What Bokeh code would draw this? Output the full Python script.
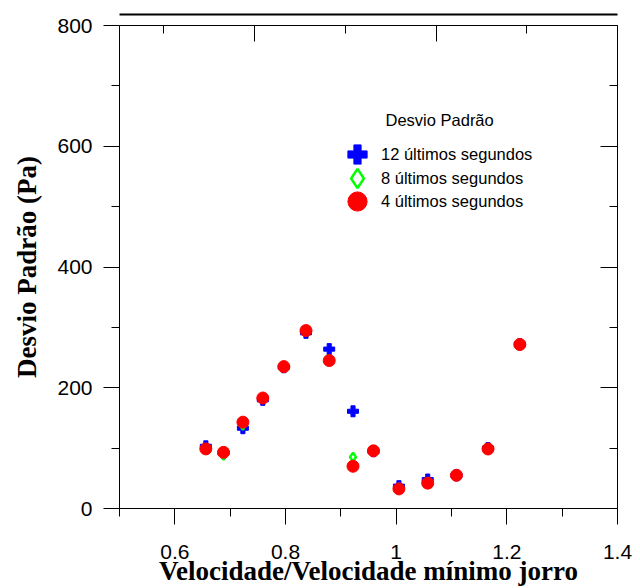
from bokeh.plotting import figure
from bokeh.models import Range1d, FixedTicker, LinearAxis, Legend, LegendItem, Label
from bokeh.embed import file_html
from bokeh.resources import INLINE

# ---- data ----
vel = [0.656, 0.688, 0.723, 0.759, 0.797, 0.837, 0.879, 0.922, 0.959, 1.005, 1.057, 1.109, 1.166, 1.2235]
dp12 = [103, 92, 133, 180, 234, 291, 264, 161, 95, 37, 48, 55, 100, 272]
dp8 = [99, 88, 138, 182, 235, 294, 246, 85, 95, 34, 43, 55, 99, 272]
dp4 = [98.7, 93, 143, 183, 235, 294.7, 245, 70, 95.5, 32.5, 42, 55, 98.6, 271.6]

x_major = [0.6, 0.8, 1.0, 1.2, 1.4]
x_minor = [0.5, 0.7, 0.9, 1.1, 1.3]
x_labels = ["0.6", "0.8", "1", "1.2", "1.4"]
y_major = [0, 200, 400, 600, 800]
y_minor = [100, 300, 500, 700]

series_names = ["12 últimos segundos", "8 últimos segundos", "4 últimos segundos"]
legend_title = "Desvio Padrão"
x_title = "Velocidade/Velocidade mínimo jorro"
y_title = "Desvio Padrão (Pa)"

SANS = "Liberation Sans"
SERIF = "Liberation Serif"

p = figure(width=640, height=588, x_range=Range1d(0.5, 1.4), y_range=Range1d(0, 800),
           output_backend="svg", toolbar_location=None,
           min_border_left=119, min_border_right=23, min_border_top=25, min_border_bottom=79,
           x_axis_label=x_title, y_axis_label=y_title)
p.grid.visible = False
p.outline_line_color = None
p.background_fill_color = "white"
p.border_fill_color = "white"

# bottom axis
xa = p.xaxis[0]
xa.ticker = FixedTicker(ticks=x_major, minor_ticks=x_minor)
xa.major_label_overrides = {v: s for v, s in zip(x_major, x_labels)}
xa.major_tick_in = 0
xa.major_tick_out = 16
xa.minor_tick_in = 0
xa.minor_tick_out = 8
xa.major_label_standoff = 20
xa.major_label_text_font = SANS
xa.major_label_text_font_size = "21px"
xa.major_label_text_color = "black"
xa.axis_label_text_font = SERIF
xa.axis_label_text_font_style = "bold"
xa.axis_label_text_font_size = "27px"
xa.axis_label_text_color = "black"
xa.axis_label_standoff = -6
xa.axis_line_color = "black"
xa.major_tick_line_color = "black"
xa.minor_tick_line_color = "black"

# left axis
ya = p.yaxis[0]
ya.ticker = FixedTicker(ticks=y_major, minor_ticks=y_minor)
ya.major_tick_in = 0
ya.major_tick_out = 16
ya.minor_tick_in = 0
ya.minor_tick_out = 8
ya.major_label_standoff = 11
ya.major_label_text_font = SANS
ya.major_label_text_font_size = "21px"
ya.major_label_text_color = "black"
ya.axis_label_text_font = SERIF
ya.axis_label_text_font_style = "bold"
ya.axis_label_text_font_size = "27px"
ya.axis_label_text_color = "black"
ya.axis_label_standoff = 12
ya.axis_line_color = "black"
ya.major_tick_line_color = "black"
ya.minor_tick_line_color = "black"

# top frame axis (inward ticks, own scale, no labels)
p.extra_x_ranges = {"top": Range1d(0.256, 3.0)}
top_major = [1, 2, 3]
top_minor = [0.5, 1.5, 2.5]
at = LinearAxis(x_range_name="top", ticker=FixedTicker(ticks=top_major, minor_ticks=top_minor),
                major_tick_in=16, major_tick_out=0, minor_tick_in=8, minor_tick_out=0,
                major_label_standoff=0, major_label_text_font_size="0px",
                major_label_overrides={v: "" for v in top_major},
                axis_line_color="black", major_tick_line_color="black", minor_tick_line_color="black")
p.add_layout(at, "above")

# invisible spacer panel so the rule sits above the frame
spacer = LinearAxis(x_range_name="top", ticker=FixedTicker(ticks=[1], minor_ticks=[]),
                    major_tick_in=0, major_tick_out=11, minor_tick_in=0, minor_tick_out=0,
                    major_tick_line_color=None, axis_line_color=None,
                    major_label_standoff=0, major_label_text_font_size="0px",
                    major_label_overrides={1: ""})
p.add_layout(spacer, "above")

# thick rule above the frame (an axis with no ticks, only its line)
rule = LinearAxis(x_range_name="top", ticker=FixedTicker(ticks=[], minor_ticks=[]),
                  major_tick_in=0, major_tick_out=0, minor_tick_in=0, minor_tick_out=0,
                  major_label_standoff=0, major_label_text_font_size="0px",
                  axis_line_color="black", axis_line_width=2)
p.add_layout(rule, "above")

# right frame axis (inward ticks, no labels)
ar = LinearAxis(ticker=FixedTicker(ticks=y_major, minor_ticks=y_minor),
                major_tick_in=17, major_tick_out=0, minor_tick_in=8, minor_tick_out=0,
                major_label_standoff=0, major_label_text_font_size="0px",
                major_label_overrides={v: "" for v in y_major},
                axis_line_color="black", major_tick_line_color="black", minor_tick_line_color="black")
p.add_layout(ar, "right")

# data
r12 = p.scatter(vel, dp12, marker="plus", size=11, fill_color="#0000FF", line_color="#0000FF")
r8 = p.scatter(vel, dp8, marker="diamond", size=9, fill_color="white", line_color="#00FF00", line_width=2.5)
r4 = p.scatter(vel, dp4, marker="circle", size=12, fill_color="#FF0000", line_color="#FF0000")

# one single-item legend per series so the keys can be large while rows stay close
legend_y = [330, 306, 283]
for name, rend, ly in zip(series_names, [r12, r8, r4], legend_y):
    lg = Legend(items=[LegendItem(label=name, renderers=[rend])],
                location=(214, ly), glyph_width=48, glyph_height=48,
                label_standoff=-6, padding=0, margin=0,
                border_line_color=None, background_fill_alpha=0,
                label_text_font=SANS, label_text_font_size="16.5px", label_text_color="black")
    p.add_layout(lg)

p.add_layout(Label(x=266, y=389, x_units="screen", y_units="screen", text=legend_title,
                   text_font=SANS, text_font_size="16.5px", text_baseline="middle",
                   text_color="black"))

open("out.html", "w").write(file_html(p, INLINE))
